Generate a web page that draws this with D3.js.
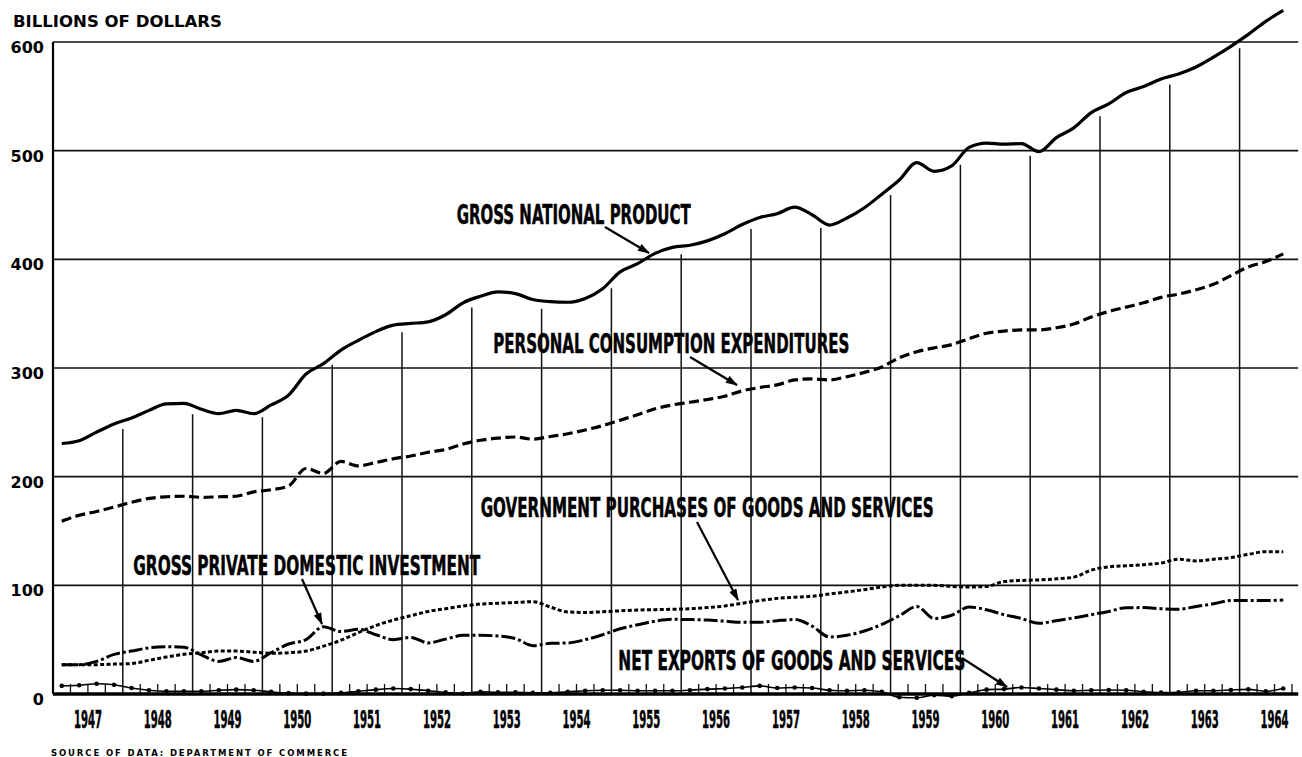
<!DOCTYPE html>
<html>
<head>
<meta charset="utf-8">
<script src="https://cdnjs.cloudflare.com/ajax/libs/d3/7.8.5/d3.min.js"></script>
<style>
  html, body { margin: 0; padding: 0; background: #fff; }
  #chart { width: 1302px; height: 757px; }
</style>
</head>
<body>
<div id="chart"></div>
<script>
(function() {
    'use strict';

    // ---- data (quarterly, seasonally adjusted annual rates, 1947 Q1 - 1964 Q3) ----
    var years = [1947, 1948, 1949, 1950, 1951, 1952, 1953, 1954, 1955,
                 1956, 1957, 1958, 1959, 1960, 1961, 1962, 1963, 1964];

    var yTicks = [0, 100, 200, 300, 400, 500, 600];

    var gnp = [
        230.5, 233, 241, 248.5,   254, 261, 267, 267.5,     262, 258, 261, 258,
        266, 275, 294.5, 304,     316.5, 325.5, 333.5, 339.5, 341, 342.5, 349, 360,
        366, 370, 368.5, 363,     361, 360.5, 364, 373,     388.5, 396, 405.5, 411,
        413, 417, 423.5, 432,     438.5, 442, 448, 441,     431.5, 438, 447.5, 460,
        473, 489, 481, 486,       503, 507, 506, 506.5,     499, 512, 521, 535,
        543, 553.5, 559, 566,     570.5, 577, 586, 596,     607, 619, 629
    ];

    var pce = [
        159, 164.5, 168, 172,     176.5, 180, 181.5, 182,   181, 181.5, 182, 186,
        188, 191.5, 207.5, 203,   214, 210, 213, 216.5,     219, 222.5, 225, 230,
        233.5, 235.5, 236.5, 234.5, 237, 239.5, 243, 247,   252, 257, 262.5, 266,
        268.5, 271, 274, 279,     282, 284.5, 289, 290,     289, 292, 296, 301,
        309.5, 315, 318.5, 321.5, 327, 332, 334, 335,       335, 337, 340.5, 347,
        352, 356, 360, 365,       368, 372, 377, 385,       393, 398, 405
    ];

    var govPurchases = [
        27, 27, 27, 27.5,         28, 31, 34, 36.5,         38, 39.5, 39.5, 38.5,
        37.5, 38, 39.5, 44,       49.5, 56.5, 63, 68,       72, 76, 78.5, 81,
        82.8, 83.5, 84.2, 85,     80, 75.5, 75, 75.7,       76.5, 77.3, 77.6, 78,
        78.5, 79.5, 81, 83.5,     86, 88, 89, 90,           92, 94, 96, 98.5,
        100, 100, 100, 99,        98.5, 99, 103.5, 104.5,   105, 106, 107.5, 114,
        117, 118, 119, 120.5,     124, 122.5, 124, 125.5,   128.5, 131, 131
    ];

    var investment = [
        27, 27, 30, 36.5,         39.5, 42.5, 43.5, 43,     36, 30, 33.5, 30,
        38, 46, 50, 62,           57.5, 59.5, 54.5, 50,     52, 47, 50.5, 54,
        54, 53.4, 51, 44.5,       46.6, 47, 50, 54.5,       60, 63.7, 67, 68.7,
        68.5, 68, 67, 66,         66, 67.5, 68.5, 62.5,     52.5, 54, 58, 64,
        72, 80.5, 69.5, 72.5,     80, 77.5, 73, 69.5,       65, 67.5, 70, 73,
        76, 79.4, 79.5, 78.5,     78, 80.5, 83, 86,         86, 86, 86.5
    ];

    var netExports = [
        7.5, 8, 9.5, 8.5,         5.5, 3.5, 2.5, 2.5,       2.5, 3.5, 4, 3.5,
        2, 0.8, 0.3, 0.3,         1, 2.5, 4, 5,             4.5, 3, 1.5, 0.5,
        2, 1.5, 1.5, 1.2,         1.2, 2, 3, 3.5,           3.5, 3, 3, 3,
        3.5, 4.5, 5, 6,           7.5, 5.5, 6, 5.5,         3.5, 3, 3.5, 2,
        -3, -3.5, -1, -2,         1, 4, 4.5, 6,             5, 4, 3, 3.5,
        3.7, 3.5, 2, 1.3,         1.5, 3, 3, 3.7,           4.3, 2.5, 5
    ];

    // labels with arrows, anchored in data space (year, billions)
    var seriesLabels = [
        "GROSS NATIONAL PRODUCT",
        "PERSONAL CONSUMPTION EXPENDITURES",
        "GOVERNMENT PURCHASES OF GOODS AND SERVICES",
        "GROSS PRIVATE DOMESTIC INVESTMENT",
        "NET EXPORTS OF GOODS AND SERVICES"
    ];

    // ---- layout ----
    var width = 1302, height = 757;
    var firstYear = 1947, lastYear = 1965, plotEndYear = 1964.84;

    var svg = d3.select("#chart").append("svg")
        .attr("width", width)
        .attr("height", height)
        .style("font-family", "'DejaVu Sans', sans-serif");

    var narrowFont = "'Liberation Sans Narrow', 'DejaVu Sans Condensed', 'Roboto Condensed', 'Liberation Sans', sans-serif";

    // setup x (decimal years)
    var xScale = d3.scaleLinear().domain([firstYear, lastYear]).range([53, 1309.4]);
    // setup y
    var yScale = d3.scaleLinear().domain([0, 600]).range([694, 42]);

    var quarterX = function(d, i) { return xScale(firstYear + (i + 0.5) / 4); };

    var x0 = xScale(firstYear), x1 = xScale(plotEndYear);

    // arrow head
    svg.append("defs").append("marker")
        .attr("id", "arrow")
        .attr("viewBox", "0 0 12 8")
        .attr("refX", 11)
        .attr("refY", 4)
        .attr("markerWidth", 13)
        .attr("markerHeight", 8)
        .attr("markerUnits", "userSpaceOnUse")
        .attr("orient", "auto")
      .append("path")
        .attr("d", "M0,0 L12,4 L0,8 Z")
        .attr("fill", "#000");

    // horizontal grid lines
    svg.append("g").selectAll("line")
        .data(yTicks.filter(function(d) { return d > 0; }))
      .enter().append("line")
        .attr("x1", x0)
        .attr("x2", x1)
        .attr("y1", function(d) { return yScale(d); })
        .attr("y2", function(d) { return yScale(d); })
        .attr("stroke", "#111")
        .attr("stroke-width", 1.6);

    // vertical year dividers, rising from zero to just under GNP
    var dividers = years.slice(1);
    svg.append("g").selectAll("line")
        .data(dividers)
      .enter().append("line")
        .attr("x1", function(d) { return xScale(d); })
        .attr("x2", function(d) { return xScale(d); })
        .attr("y1", yScale(0))
        .attr("y2", function(d) {
            var k = (d - firstYear) * 4;
            var v = (gnp[k - 1] + gnp[k]) / 2;
            return yScale(v) + 8;
        })
        .attr("stroke", "#111")
        .attr("stroke-width", 1.5);

    // quarter ticks along the zero line
    var qTicks = [];
    years.forEach(function(y) {
        [0.25, 0.5, 0.75].forEach(function(q) {
            if (y + q < plotEndYear) qTicks.push(y + q);
        });
    });
    svg.append("g").selectAll("line")
        .data(qTicks)
      .enter().append("line")
        .attr("x1", function(d) { return xScale(d); })
        .attr("x2", function(d) { return xScale(d); })
        .attr("y1", yScale(0))
        .attr("y2", yScale(0) - 10)
        .attr("stroke", "#111")
        .attr("stroke-width", 1.3);

    // left axis line
    svg.append("line")
        .attr("x1", x0).attr("x2", x0)
        .attr("y1", yScale(600)).attr("y2", yScale(0))
        .attr("stroke", "#000")
        .attr("stroke-width", 2.2);

    // y tick labels
    var yAxis = d3.axisLeft(yScale).tickValues(yTicks).tickSize(0).tickPadding(9);
    var yg = svg.append("g")
        .attr("transform", "translate(" + x0 + ",0)")
        .call(yAxis);
    yg.select(".domain").remove();
    yg.selectAll("text")
        .attr("dy", "0.65em")
        .attr("font-family", "'DejaVu Sans', sans-serif")
        .attr("font-weight", "bold")
        .attr("font-size", 16)
        .attr("fill", "#000");

    // year labels
    svg.append("g").selectAll("text")
        .data(years)
      .enter().append("text")
        .attr("x", function(d) { return xScale(d + 0.5) - 14; })
        .attr("y", 728)
        .attr("font-family", narrowFont)
        .attr("font-weight", "bold")
        .attr("font-size", 24)
        .attr("stroke", "#000")
        .attr("stroke-width", 0.5)
        .attr("textLength", 28)
        .attr("lengthAdjust", "spacingAndGlyphs")
        .text(function(d) { return d; });

    // ---- series ----
    var line = d3.line()
        .x(quarterX)
        .y(function(d) { return yScale(d); })
        .curve(d3.curveMonotoneX);

    var seriesStyles = [
        { data: gnp, dash: null, w: 3.2 },
        { data: pce, dash: "10,4.5", w: 3.2 },
        { data: govPurchases, dash: "4,2.4", w: 3 },
        { data: investment, dash: "14,3,3,3", w: 3 }
    ];

    seriesStyles.forEach(function(s) {
        svg.append("path")
            .datum(s.data)
            .attr("d", line)
            .attr("fill", "none")
            .attr("stroke", "#000")
            .attr("stroke-width", s.w)
            .attr("stroke-dasharray", s.dash)
            .attr("stroke-linejoin", "round");
    });

    // net exports: thin line with dots
    svg.append("path")
        .datum(netExports)
        .attr("d", line)
        .attr("fill", "none")
        .attr("stroke", "#000")
        .attr("stroke-width", 1.6);

    svg.append("g").selectAll("circle")
        .data(netExports)
      .enter().append("circle")
        .attr("cx", quarterX)
        .attr("cy", function(d) { return yScale(d); })
        .attr("r", 2.3)
        .attr("fill", "#000");

    // zero line (heavy)
    svg.append("line")
        .attr("x1", x0).attr("x2", x1)
        .attr("y1", yScale(0)).attr("y2", yScale(0))
        .attr("stroke", "#000")
        .attr("stroke-width", 3.6);

    // ---- annotations ----
    var labelPos = [
        { x: 1952.784, y: 432.5, len: 234, ax1: 1954.908, ay1: 429.8, ax2: 1955.539, ay2: 405.8 },
        { x: 1953.308, y: 313.8, len: 356, ax1: 1956.126, ay1: 310.1, ax2: 1956.799, ay2: 284.4 },
        { x: 1953.127, y: 163.2, len: 453, ax1: 1956.226, ay1: 158.3, ax2: 1956.814, ay2: 86.5 },
        { x: 1948.150, y: 109.5, len: 347, ax1: 1950.567, ay1: 105.8, ax2: 1950.854, ay2: 64.4 },
        { x: 1955.099, y: 22.1,  len: 347, ax1: 1960.023, ay1: 33.1,  ax2: 1960.668, ay2: 6.4 }
    ];

    var ann = svg.append("g").selectAll("g")
        .data(seriesLabels)
      .enter().append("g");

    ann.append("text")
        .attr("x", function(d, i) { return xScale(labelPos[i].x); })
        .attr("y", function(d, i) { return yScale(labelPos[i].y); })
        .attr("font-family", narrowFont)
        .attr("font-weight", "bold")
        .attr("font-size", 26)
        .attr("stroke", "#000")
        .attr("stroke-width", 0.5)
        .attr("textLength", function(d, i) { return labelPos[i].len; })
        .attr("lengthAdjust", "spacingAndGlyphs")
        .text(function(d) { return d; });

    ann.append("line")
        .attr("x1", function(d, i) { return xScale(labelPos[i].ax1); })
        .attr("y1", function(d, i) { return yScale(labelPos[i].ay1); })
        .attr("x2", function(d, i) { return xScale(labelPos[i].ax2); })
        .attr("y2", function(d, i) { return yScale(labelPos[i].ay2); })
        .attr("stroke", "#000")
        .attr("stroke-width", 2.2)
        .attr("marker-end", "url(#arrow)");

    // unit title and source note
    svg.append("text")
        .attr("x", 13)
        .attr("y", 27)
        .attr("font-family", "'DejaVu Sans', sans-serif")
        .attr("font-weight", "bold")
        .attr("font-size", 15.5)
        .attr("textLength", 209)
        .attr("lengthAdjust", "spacingAndGlyphs")
        .text("BILLIONS OF DOLLARS");

    svg.append("text")
        .attr("x", 51)
        .attr("y", 756)
        .attr("font-family", "'DejaVu Sans', sans-serif")
        .attr("font-weight", "bold")
        .attr("font-size", 8.5)
        .attr("textLength", 296)
        .attr("lengthAdjust", "spacing")
        .text("SOURCE OF DATA: DEPARTMENT OF COMMERCE");
})();
</script>
</body>
</html>
